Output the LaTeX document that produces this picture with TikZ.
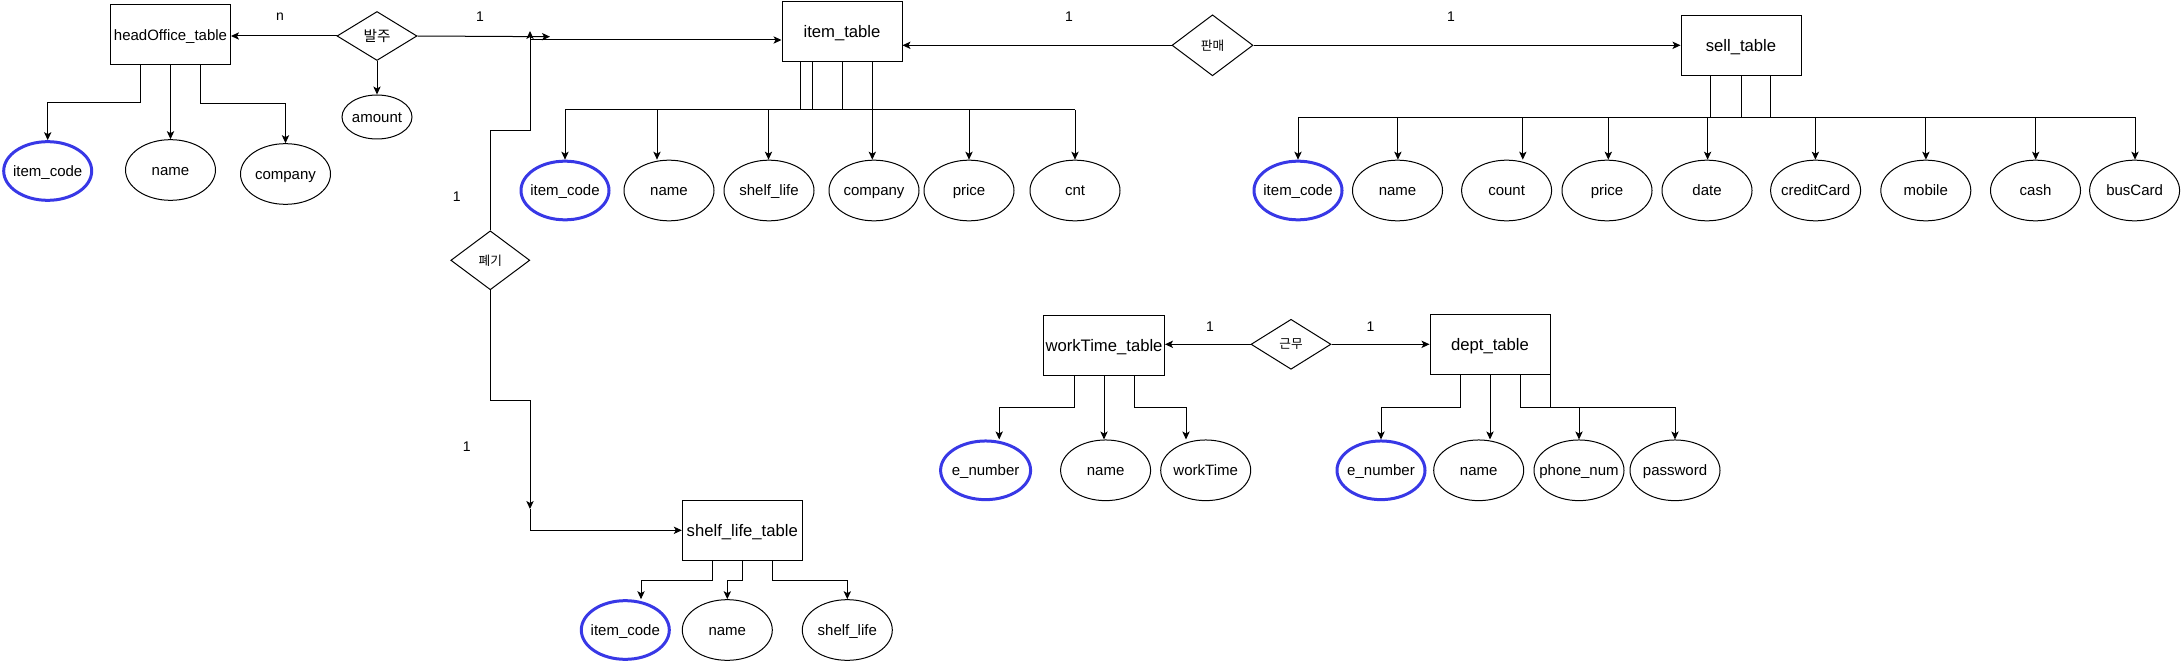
\documentclass[tikz,border=0pt]{standalone}
\usepackage{fontspec}
\setmainfont{Liberation Sans}
\newfontfamily\kor{Noto Sans CJK KR}
\usetikzlibrary{shapes.geometric,arrows.meta}
\definecolor{keyblue}{RGB}{56,56,230}

\begin{document}
\begin{tikzpicture}[x=0.75pt,y=0.75pt,yscale=-1,xscale=1,line width=0.75pt,
	conn/.style={-{Stealth[length=6pt,width=5.5pt,inset=1.5pt]}},
	tbl/.style={draw,rectangle,minimum width=90pt,minimum height=45pt,inner sep=0pt,text height=10pt,text depth=1pt,font=\fontsize{12.5}{14}\selectfont},
	attr/.style={draw,ellipse,minimum width=67.5pt,minimum height=45.5pt,inner xsep=-8pt,inner ysep=0pt,text height=9pt,text depth=1pt,font=\fontsize{11.25}{13}\selectfont},
	pkey/.style={attr,draw=keyblue,line width=2.25pt,minimum width=66pt,minimum height=44pt},
	rel/.style={draw,diamond,inner sep=0pt,font=\kor\fontsize{9.5}{10}\selectfont},
	card/.style={inner sep=0pt,font=\fontsize{10.5}{12}\selectfont}]
	\useasboundingbox (0,0) rectangle (2181,663);
	\draw (170.5,35) node [tbl,text height=9pt,font=\fontsize{11.25}{13}\selectfont] (ho) {headOffice\_table};
	\draw (47.7,171) node [pkey] (hoCode) {item\_code};
	\draw (170.5,170) node [attr] (hoName) {name};
	\draw (285.5,174) node [attr] (hoComp) {company};
	\draw (377,36) node [rel,minimum width=60pt,minimum height=36.75pt,font=\kor\fontsize{11}{12}\selectfont] (order) {발주};
	\draw (377,117) node [attr,minimum width=52.5pt,minimum height=33pt] (amount) {amount};
	\draw (842,31.5) node [tbl] (item) {item\_table};
	\draw (565,190.5) node [pkey] (iCode) {item\_code};
	\draw (669,190.5) node [attr] (iName) {name};
	\draw (769,190.5) node [attr] (iShelf) {shelf\_life};
	\draw (874,190.5) node [attr] (iComp) {company};
	\draw (969,190.5) node [attr] (iPrice) {price};
	\draw (1075,190.5) node [attr] (iCnt) {cnt};
	\draw (1212.5,45.3) node [rel,minimum width=60.75pt,minimum height=45.75pt] (sale) {판매};
	\draw (1741,45.3) node [tbl] (sell) {sell\_table};
	\draw (1298,190.5) node [pkey] (slCode) {item\_code};
	\draw (1397.5,190.5) node [attr] (slName) {name};
	\draw (1506.6,190.5) node [attr] (slCount) {count};
	\draw (1607,190.5) node [attr] (slPrice) {price};
	\draw (1707,190.5) node [attr] (slDate) {date};
	\draw (1815.6,190.5) node [attr] (slCredit) {creditCard};
	\draw (1925.8,190.5) node [attr] (slMobile) {mobile};
	\draw (2035.5,190.5) node [attr] (slCash) {cash};
	\draw (2134.6,190.5) node [attr] (slBus) {busCard};
	\draw (490.3,260.3) node [rel,minimum width=59.25pt,minimum height=44.25pt] (disp) {폐기};
	\draw (742.3,530.3) node [tbl] (slt) {shelf\_life\_table};
	\draw (625.3,630) node [pkey] (sfCode) {item\_code};
	\draw (727.3,630) node [attr] (sfName) {name};
	\draw (847.3,630) node [attr] (sfShelf) {shelf\_life};
	\draw (1104,345.3) node [tbl,minimum width=90.75pt] (wt) {workTime\_table};
	\draw (1291,344.3) node [rel,minimum width=60pt,minimum height=37.5pt] (work) {근무};
	\draw (1490,344.3) node [tbl] (dept) {dept\_table};
	\draw (985.6,470.3) node [pkey,minimum width=67.5pt] (wCode) {e\_number};
	\draw (1105.6,470.3) node [attr] (wName) {name};
	\draw (1205.7,470.3) node [attr] (wTime) {workTime};
	\draw (1381,470.3) node [pkey] (dCode) {e\_number};
	\draw (1478.7,470.3) node [attr] (dName) {name};
	\draw (1579,470.3) node [attr] (dPhone) {phone\_num};
	\draw (1675,470.3) node [attr] (dPass) {password};
	\draw (280,17) node [card] (cOrdN) {n};
	\draw (480,17) node [card] (cOrd1) {1};
	\draw (1069,17) node [card] (cSale1) {1};
	\draw (1451,17) node [card] (cSale2) {1};
	\draw (456.7,196.7) node [card] (cDisp1) {1};
	\draw (466.7,446.7) node [card] (cDisp2) {1};
	\draw (1210,326.7) node [card] (cWork1) {1};
	\draw (1370.5,326.7) node [card] (cWork2) {1};
	\coordinate (oEnd) at (550,36.7);
	\coordinate (dUp) at (530,31);
	\coordinate (iIn) at (530,40);
	\coordinate (sEnd) at (530,509);
	\draw [conn] (order.west) -- (order.west -| ho.east);
	\draw [conn] (order.east) -- (oEnd);
	\draw [conn] (order.south) -- (amount.north);
	\draw [conn] (140,0 |- ho.south) -- (140,103) -| (hoCode.north);
	\draw [conn] (ho.south) -- (hoName.north);
	\draw [conn] (200.7,0 |- ho.south) -- (200.7,104) -| (hoComp.north);
	\draw [conn] (disp.north) |- (530,131) -- (dUp);
	\draw [conn] (iIn) -- (iIn -| item.west);
	\draw [conn] (sale.west) -- (sale.west -| item.east);
	\draw [conn] (sale.east) -- (sale.east -| sell.west);
	\draw (800.4,0 |- item.south) -- (800.4,110);
	\draw (812.5,0 |- item.south) -- (812.5,110);
	\draw (842.4,0 |- item.south) -- (842.4,110);
	\draw (872.3,0 |- item.south) -- (872.3,110);
	\draw (565,110) -- (1075,110);
	\draw [conn] (565,110) -- (iCode.north);
	\draw [conn] (657,110) -- (657,0 |- iName.north);
	\draw [conn] (768.5,110) -- (768.5,0 |- iShelf.north);
	\draw [conn] (872.3,110) -- (872.3,0 |- iComp.north);
	\draw [conn] (969,110) -- (iPrice.north);
	\draw [conn] (1075,110) -- (iCnt.north);
	\draw (1710.8,0 |- sell.south) -- (1710.8,117.3);
	\draw (sell.south) -- (1741,117.3);
	\draw (1770,0 |- sell.south) -- (1770,117.3);
	\draw (1298,117.3) -- (2135,117.3);
	\draw [conn] (1298,117.3) -- (slCode.north);
	\draw [conn] (1397.9,117.3) -- (1397.9,0 |- slName.north);
	\draw [conn] (1522.8,117.3) -- (1522.8,0 |- slCount.north);
	\draw [conn] (1608.3,117.3) -- (1608.3,0 |- slPrice.north);
	\draw [conn] (1707.6,117.3) -- (1707.6,0 |- slDate.north);
	\draw [conn] (1815.4,117.3) -- (1815.4,0 |- slCredit.north);
	\draw [conn] (1925.9,117.3) -- (1925.9,0 |- slMobile.north);
	\draw [conn] (2035.7,117.3) -- (2035.7,0 |- slCash.north);
	\draw [conn] (2135,117.3) -- (2135,0 |- slBus.north);
	\draw [conn] (disp.south) |- (530,400) -- (sEnd);
	\draw [conn] (sEnd) |- (slt.west);
	\draw [conn] (712.3,0 |- slt.south) -- (712.3,580) -| (641,0 |- sfCode.north);
	\draw [conn] (slt.south) -- (742.3,580) -| (sfName.north);
	\draw [conn] (772.3,0 |- slt.south) -- (772.3,580) -| (sfShelf.north);
	\draw [conn] (work.west) -- (work.west -| wt.east);
	\draw [conn] (work.east) -- (work.east -| dept.west);
	\draw [conn] (1074,0 |- wt.south) -- (1074,407.7) -| (999.2,0 |- wCode.north);
	\draw [conn] (wt.south) -- (wt.south |- wName.north);
	\draw [conn] (1134.2,0 |- wt.south) -- (1134.2,407.7) -| (1186,0 |- wTime.north);
	\draw [conn] (1460,0 |- dept.south) -- (1460,407) -| (dCode.north);
	\draw [conn] (dept.south) -- (dept.south |- dName.north);
	\draw (1520.6,0 |- dept.south) -- (1520.6,407) -- (1675,407);
	\draw (1550.4,0 |- dept.south) -- (1550.4,407);
	\draw [conn] (1579,407) -- (1579,0 |- dPhone.north);
	\draw [conn] (1675,407) -- (dPass.north);
\end{tikzpicture}
\end{document}
